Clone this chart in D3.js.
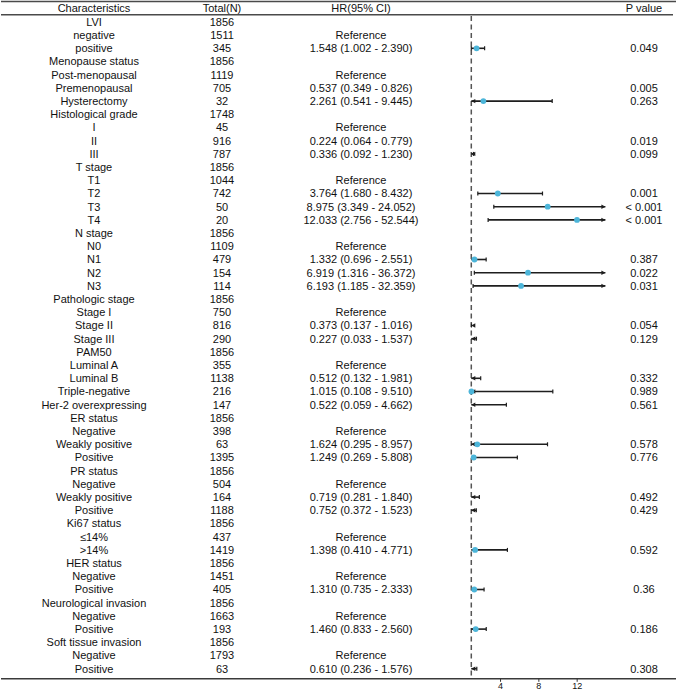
<!DOCTYPE html>
<html>
<head>
<meta charset="utf-8">
<script src="https://cdn.jsdelivr.net/npm/d3@7"></script>
<style>
  html, body { margin: 0; padding: 0; background: #fff; }
  svg text { font-family: "Liberation Sans", Arial, sans-serif; fill: #111; }
</style>
</head>
<body>
<svg id="chart" width="676" height="691"></svg>
<script>
const headers = ["Characteristics", "Total(N)", "HR(95% CI)", "P value"];
const labels = ["LVI","negative","positive","Menopause status","Post-menopausal","Premenopausal","Hysterectomy",
  "Histological grade","I","II","III","T stage","T1","T2","T3","T4","N stage","N0","N1","N2","N3",
  "Pathologic stage","Stage I","Stage II","Stage III","PAM50","Luminal A","Luminal B","Triple-negative",
  "Her-2 overexpressing","ER status","Negative","Weakly positive","Positive","PR status","Negative",
  "Weakly positive","Positive","Ki67 status","≤14%",">14%","HER status","Negative","Positive",
  "Neurological invasion","Negative","Positive","Soft tissue invasion","Negative","Positive"];
const totals = ["1856","1511","345","1856","1119","705","32","1748","45","916","787","1856","1044","742","50","20",
  "1856","1109","479","154","114","1856","750","816","290","1856","355","1138","216","147","1856","398","63",
  "1395","1856","504","164","1188","1856","437","1419","1856","1451","405","1856","1663","193","1856","1793","63"];
const hrText = ["","Reference","1.548 (1.002 - 2.390)","","Reference","0.537 (0.349 - 0.826)","2.261 (0.541 - 9.445)",
  "","Reference","0.224 (0.064 - 0.779)","0.336 (0.092 - 1.230)","","Reference","3.764 (1.680 - 8.432)",
  "8.975 (3.349 - 24.052)","12.033 (2.756 - 52.544)","","Reference","1.332 (0.696 - 2.551)","6.919 (1.316 - 36.372)",
  "6.193 (1.185 - 32.359)","","Reference","0.373 (0.137 - 1.016)","0.227 (0.033 - 1.537)","","Reference",
  "0.512 (0.132 - 1.981)","1.015 (0.108 - 9.510)","0.522 (0.059 - 4.662)","","Reference","1.624 (0.295 - 8.957)",
  "1.249 (0.269 - 5.808)","","Reference","0.719 (0.281 - 1.840)","0.752 (0.372 - 1.523)","","Reference",
  "1.398 (0.410 - 4.771)","","Reference","1.310 (0.735 - 2.333)","","Reference","1.460 (0.833 - 2.560)","",
  "Reference","0.610 (0.236 - 1.576)"];
const est = [null,null,1.548,null,null,0.537,2.261,null,null,0.224,0.336,null,null,3.764,8.975,12.033,null,null,
  1.332,6.919,6.193,null,null,0.373,0.227,null,null,0.512,1.015,0.522,null,null,1.624,1.249,null,null,0.719,0.752,
  null,null,1.398,null,null,1.310,null,null,1.460,null,null,0.610];
const lower = [null,null,1.002,null,null,0.349,0.541,null,null,0.064,0.092,null,null,1.680,3.349,2.756,null,null,
  0.696,1.316,1.185,null,null,0.137,0.033,null,null,0.132,0.108,0.059,null,null,0.295,0.269,null,null,0.281,0.372,
  null,null,0.410,null,null,0.735,null,null,0.833,null,null,0.236];
const upper = [null,null,2.390,null,null,0.826,9.445,null,null,0.779,1.230,null,null,8.432,24.052,52.544,null,null,
  2.551,36.372,32.359,null,null,1.016,1.537,null,null,1.981,9.510,4.662,null,null,8.957,5.808,null,null,1.840,1.523,
  null,null,4.771,null,null,2.333,null,null,2.560,null,null,1.576];
const pvals = ["","","0.049","","","0.005","0.263","","","0.019","0.099","","","0.001","< 0.001","< 0.001","","",
  "0.387","0.022","0.031","","","0.054","0.129","","","0.332","0.989","0.561","","","0.578","0.776","","","0.492",
  "0.429","","","0.592","","","0.36","","","0.186","","","0.308"];
const xTicks = [4, 8, 12];
const xLimits = [1, 15];
const refValue = 1;

const svg = d3.select("#chart");
const colX = [94, 222, 361, 644];
const y = d3.scalePoint().domain(d3.range(labels.length)).range([21.9, 668.7]);
const x = d3.scaleLinear().domain(xLimits).range([471.3, 605.4]);
const fs = 11;

// table lines
svg.append("line").attr("x1", 1).attr("x2", 676).attr("y1", 1.5).attr("y2", 1.5)
  .attr("stroke", "#4a4a4a").attr("stroke-width", 1.6);
svg.append("line").attr("x1", 1).attr("x2", 673).attr("y1", 14.8).attr("y2", 14.8)
  .attr("stroke", "#4a4a4a").attr("stroke-width", 1.4);
svg.append("line").attr("x1", 1).attr("x2", 676).attr("y1", 678.8).attr("y2", 678.8)
  .attr("stroke", "#3a3a3a").attr("stroke-width", 1.6);

// headers
svg.selectAll("text.hdr").data(headers).join("text").attr("class", "hdr")
  .attr("x", (d, i) => colX[i]).attr("y", 8).attr("dy", "0.35em")
  .attr("text-anchor", "middle").attr("font-size", fs).text(d => d);

const rows = svg.append("g");
const cols = [labels, totals, hrText, pvals];
cols.forEach((arr, ci) => {
  rows.selectAll("text.c" + ci).data(arr).join("text").attr("class", "c" + ci)
    .attr("x", colX[ci]).attr("y", (d, i) => y(i)).attr("dy", "0.35em")
    .attr("text-anchor", "middle").attr("font-size", fs).text(d => d);
});

// reference line
svg.append("line").attr("x1", x(refValue)).attr("x2", x(refValue))
  .attr("y1", 16).attr("y2", 678).attr("stroke", "#555").attr("stroke-width", 1.5)
  .attr("stroke-dasharray", "5,3.5");

// forest marks
const g = svg.append("g");
const lineCol = "#1e1e1e";
const ptCol = "#4cb5d9";
est.forEach((e, i) => {
  if (e === null) return;
  const lo = lower[i], hi = upper[i];
  if (hi < xLimits[0] || lo > xLimits[1]) return;
  const cy = y(i);
  const l = Math.max(lo, xLimits[0]), h = Math.min(hi, xLimits[1]);
  g.append("line").attr("x1", x(l)).attr("x2", x(h)).attr("y1", cy).attr("y2", cy)
    .attr("stroke", lineCol).attr("stroke-width", 1.6);
  // left end
  if (lo < xLimits[0]) {
    const xl = x(xLimits[0]);
    g.append("path").attr("d", `M${xl},${cy} L${xl + 4},${cy - 2.2} L${xl + 4},${cy + 2.2} Z`).attr("fill", lineCol);
  } else {
    g.append("line").attr("x1", x(lo)).attr("x2", x(lo)).attr("y1", cy - 2).attr("y2", cy + 2)
      .attr("stroke", lineCol).attr("stroke-width", 1.2);
  }
  // right end
  if (hi > xLimits[1]) {
    const xr = x(xLimits[1]);
    g.append("path").attr("d", `M${xr},${cy} L${xr - 4},${cy - 2.2} L${xr - 4},${cy + 2.2} Z`).attr("fill", lineCol);
  } else {
    g.append("line").attr("x1", x(hi)).attr("x2", x(hi)).attr("y1", cy - 2).attr("y2", cy + 2)
      .attr("stroke", lineCol).attr("stroke-width", 1.2);
  }
  if (e >= xLimits[0] && e <= xLimits[1]) {
    g.append("circle").attr("cx", x(e)).attr("cy", cy).attr("r", 2.9).attr("fill", ptCol);
  }
});

// x axis ticks
const axis = d3.axisBottom(x).tickValues(xTicks).tickSize(3).tickPadding(1).tickFormat(d3.format("d"));
const ax = svg.append("g").attr("transform", "translate(0,678.8)").call(axis);
ax.select(".domain").remove();
ax.selectAll(".tick line").attr("stroke", "#333").attr("stroke-width", 1);
ax.selectAll(".tick text").attr("font-size", 9).attr("font-family", "Liberation Sans, Arial, sans-serif").attr("fill", "#111");
</script>
</body>
</html>
